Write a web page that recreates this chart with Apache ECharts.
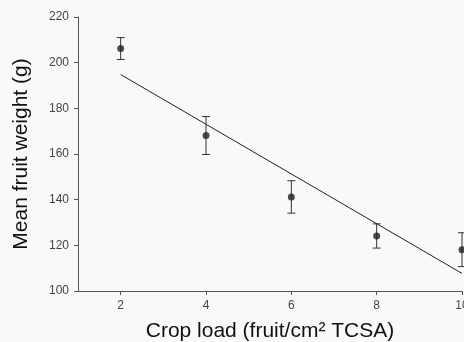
<!DOCTYPE html>
<html><head><meta charset="utf-8">
<script src="https://cdn.jsdelivr.net/npm/echarts@6/dist/echarts.min.js"></script>
<style>html,body{margin:0;padding:0;background:#f9f9f9}#c{width:464px;height:342px}</style>
</head><body><div id="c"></div>
<script>
// Data
const cropLoad = [2, 4, 6, 8, 10];
const meanWeight = [206.2, 168.1, 141.2, 124.1, 118.1];
const errorSE = [4.8, 8.3, 7.1, 5.3, 7.4];
const fitX = [2, 10];
const fitY = [194.8, 107.7];
const xTicks = [2, 4, 6, 8, 10];
const yTicks = [100, 120, 140, 160, 180, 200, 220];

const font = 'Liberation Sans, Arial, sans-serif';
const pts = cropLoad.map((x, i) => [x, meanWeight[i]]);
const errs = cropLoad.map((x, i) => [x, meanWeight[i] - errorSE[i], meanWeight[i] + errorSE[i]]);
const fit = fitX.map((x, i) => [x, fitY[i]]);

const chart = echarts.init(document.getElementById('c'), null, {renderer: 'canvas'});
chart.setOption({
  backgroundColor: '#f9f9f9',
  animation: false,
  grid: {left: 78, right: 2, top: 17, bottom: 51, containLabel: false, outerBoundsMode: 'none'},
  xAxis: {
    type: 'value', min: 1, max: 10,
    name: 'Crop load (fruit/cm² TCSA)', nameLocation: 'middle', nameGap: 30,
    nameTextStyle: {fontFamily: font, fontSize: 21, color: '#111'},
    axisLine: {show: true, lineStyle: {color: '#555', width: 1}},
    axisTick: {show: true, length: 4, customValues: xTicks, lineStyle: {color: '#555'}},
    axisLabel: {customValues: xTicks, margin: 9, fontFamily: font, fontSize: 12, color: '#444'},
    splitLine: {show: false}
  },
  yAxis: {
    type: 'value', min: 100, max: 220, interval: 20,
    name: 'Mean fruit weight (g)', nameLocation: 'middle', nameGap: 46,
    nameTextStyle: {fontFamily: font, fontSize: 21, color: '#111'},
    axisLine: {show: true, lineStyle: {color: '#555', width: 1}},
    axisTick: {show: true, length: 4, lineStyle: {color: '#555'}},
    axisLabel: {margin: 9, fontFamily: font, fontSize: 12, color: '#444'},
    splitLine: {show: false}
  },
  series: [
    {
      type: 'line', data: fit, symbol: 'none',
      lineStyle: {color: '#222', width: 1}, z: 2
    },
    {
      type: 'custom', data: errs, z: 3,
      renderItem: function (params, api) {
        const x = api.value(0);
        const lo = api.coord([x, api.value(1)]);
        const hi = api.coord([x, api.value(2)]);
        const w = 4;
        const st = {stroke: '#333', lineWidth: 1};
        return {type: 'group', children: [
          {type: 'line', shape: {x1: lo[0], y1: lo[1], x2: hi[0], y2: hi[1]}, style: st},
          {type: 'line', shape: {x1: lo[0] - w, y1: lo[1], x2: lo[0] + w, y2: lo[1]}, style: st},
          {type: 'line', shape: {x1: hi[0] - w, y1: hi[1], x2: hi[0] + w, y2: hi[1]}, style: st}
        ]};
      }
    },
    {
      type: 'scatter', data: pts, symbol: 'circle', symbolSize: 7,
      itemStyle: {color: '#222'}, z: 4
    }
  ]
});
</script>
</body></html>
